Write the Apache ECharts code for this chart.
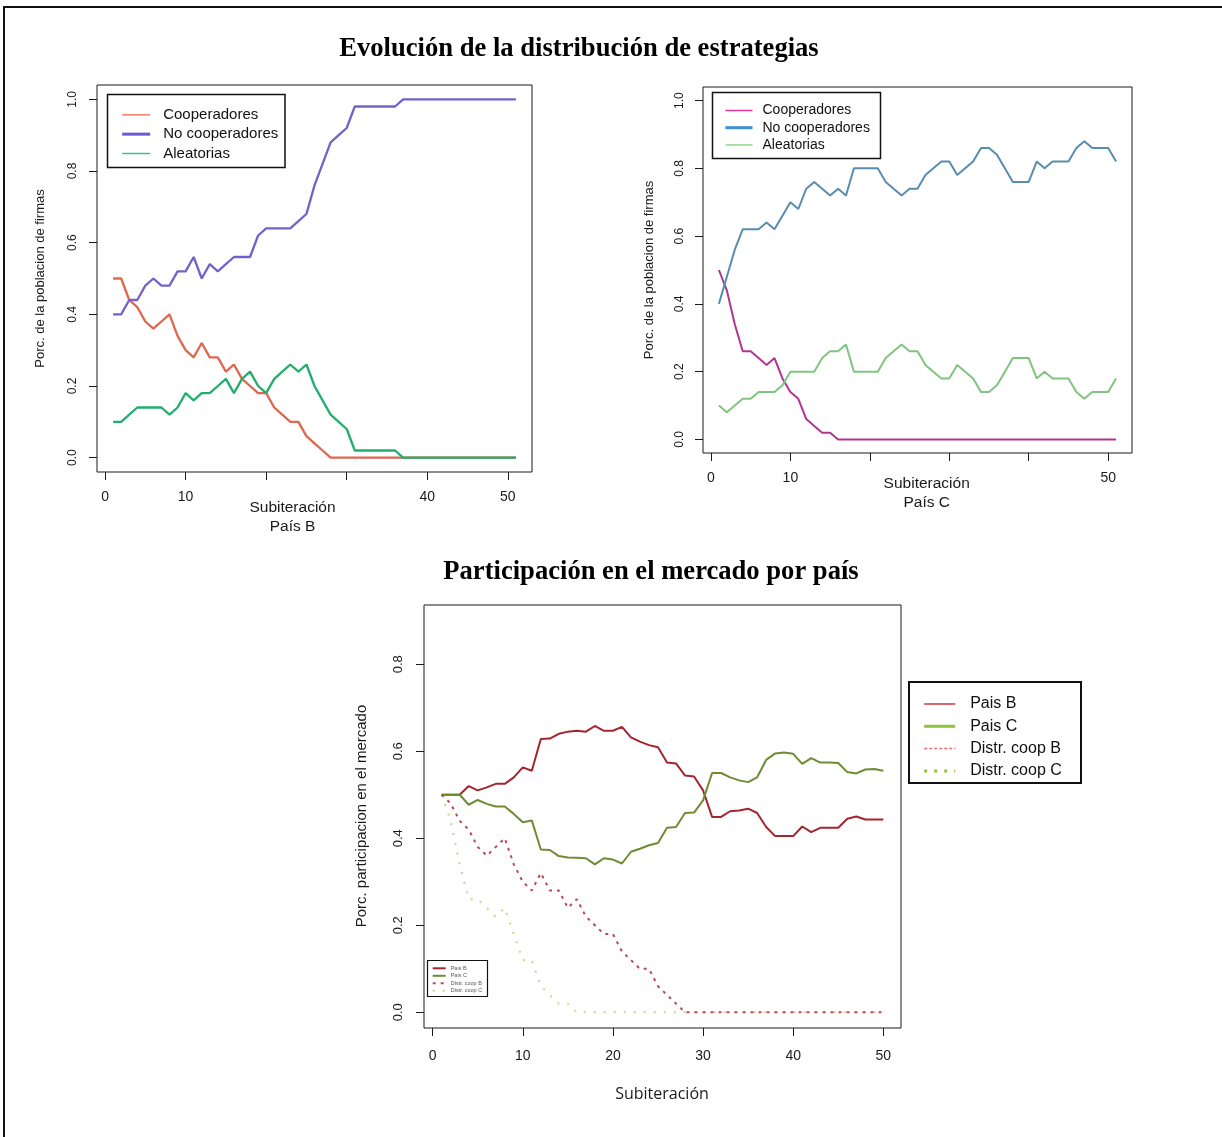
<!DOCTYPE html>
<html>
<head>
<meta charset="utf-8">
<title>Evolución de la distribución de estrategias</title>
<script src="https://cdn.jsdelivr.net/npm/echarts@6/dist/echarts.min.js"></script>
<style>
html, body { margin: 0; padding: 0; background: #fff; }
#chart { width: 1222px; height: 1137px; }
</style>
</head>
<body>
<div id="chart"></div>
<script>
// ---- datos (proporcion por subiteracion, empezando en 1) ----
// Pais B
var coopB = [0.50, 0.50, 0.44, 0.42, 0.38, 0.36, 0.38, 0.40, 0.34, 0.30,
	0.28, 0.32, 0.28, 0.28, 0.24, 0.26, 0.22, 0.20, 0.18, 0.18,
	0.14, 0.12, 0.10, 0.10, 0.06, 0.04, 0.02, 0, 0, 0,
	0, 0, 0, 0, 0, 0, 0, 0, 0, 0,
	0, 0, 0, 0, 0, 0, 0, 0, 0, 0, 0];
var noCoopB = [0.40, 0.40, 0.44, 0.44, 0.48, 0.50, 0.48, 0.48, 0.52, 0.52,
	0.56, 0.50, 0.54, 0.52, 0.54, 0.56, 0.56, 0.56, 0.62, 0.64,
	0.64, 0.64, 0.64, 0.66, 0.68, 0.76, 0.82, 0.88, 0.90, 0.92,
	0.98, 0.98, 0.98, 0.98, 0.98, 0.98, 1, 1, 1, 1,
	1, 1, 1, 1, 1, 1, 1, 1, 1, 1, 1];
var aleaB = [0.10, 0.10, 0.12, 0.14, 0.14, 0.14, 0.14, 0.12, 0.14, 0.18,
	0.16, 0.18, 0.18, 0.20, 0.22, 0.18, 0.22, 0.24, 0.20, 0.18,
	0.22, 0.24, 0.26, 0.24, 0.26, 0.20, 0.16, 0.12, 0.10, 0.08,
	0.02, 0.02, 0.02, 0.02, 0.02, 0.02, 0, 0, 0, 0,
	0, 0, 0, 0, 0, 0, 0, 0, 0, 0, 0];
// Pais C
var coopC = [0.50, 0.44, 0.34, 0.26, 0.26, 0.24, 0.22, 0.24, 0.18, 0.14,
	0.12, 0.06, 0.04, 0.02, 0.02, 0, 0, 0, 0, 0,
	0, 0, 0, 0, 0, 0, 0, 0, 0, 0,
	0, 0, 0, 0, 0, 0, 0, 0, 0, 0,
	0, 0, 0, 0, 0, 0, 0, 0, 0, 0, 0];
var noCoopC = [0.40, 0.48, 0.56, 0.62, 0.62, 0.62, 0.64, 0.62, 0.66, 0.70,
	0.68, 0.74, 0.76, 0.74, 0.72, 0.74, 0.72, 0.80, 0.80, 0.80,
	0.80, 0.76, 0.74, 0.72, 0.74, 0.74, 0.78, 0.80, 0.82, 0.82,
	0.78, 0.80, 0.82, 0.86, 0.86, 0.84, 0.80, 0.76, 0.76, 0.76,
	0.82, 0.80, 0.82, 0.82, 0.82, 0.86, 0.88, 0.86, 0.86, 0.86, 0.82];
var aleaC = [0.10, 0.08, 0.10, 0.12, 0.12, 0.14, 0.14, 0.14, 0.16, 0.20,
	0.20, 0.20, 0.20, 0.24, 0.26, 0.26, 0.28, 0.20, 0.20, 0.20,
	0.20, 0.24, 0.26, 0.28, 0.26, 0.26, 0.22, 0.20, 0.18, 0.18,
	0.22, 0.20, 0.18, 0.14, 0.14, 0.16, 0.20, 0.24, 0.24, 0.24,
	0.18, 0.20, 0.18, 0.18, 0.18, 0.14, 0.12, 0.14, 0.14, 0.14, 0.18];
// participacion en el mercado
var paisB = [0.50, 0.50, 0.50, 0.52, 0.51, 0.517, 0.525, 0.525, 0.54, 0.563,
	0.555, 0.628, 0.629, 0.64, 0.645, 0.647, 0.645, 0.658, 0.647, 0.647,
	0.656, 0.632, 0.622, 0.614, 0.609, 0.574, 0.572, 0.544, 0.542, 0.51,
	0.449, 0.449, 0.462, 0.464, 0.468, 0.458, 0.426, 0.405, 0.405, 0.405,
	0.427, 0.414, 0.424, 0.424, 0.424, 0.445, 0.45, 0.443, 0.443, 0.443];
var paisC = [0.50, 0.50, 0.50, 0.477, 0.488, 0.479, 0.473, 0.473, 0.456, 0.437,
	0.441, 0.374, 0.373, 0.359, 0.356, 0.355, 0.354, 0.340, 0.354, 0.351,
	0.342, 0.369, 0.376, 0.384, 0.389, 0.424, 0.426, 0.458, 0.459, 0.487,
	0.55, 0.55, 0.54, 0.533, 0.529, 0.54, 0.58, 0.595, 0.597, 0.594,
	0.571, 0.584, 0.574, 0.574, 0.573, 0.552, 0.549, 0.558, 0.559, 0.555];
var distrB = [0.50, 0.48, 0.44, 0.42, 0.38, 0.36, 0.38, 0.40, 0.34, 0.30,
	0.28, 0.32, 0.28, 0.28, 0.24, 0.26, 0.22, 0.20, 0.18, 0.18,
	0.14, 0.12, 0.10, 0.10, 0.06, 0.04, 0.02, 0, 0, 0,
	0, 0, 0, 0, 0, 0, 0, 0, 0, 0,
	0, 0, 0, 0, 0, 0, 0, 0, 0, 0];
var distrC = [0.50, 0.44, 0.34, 0.26, 0.26, 0.24, 0.22, 0.24, 0.18, 0.12,
	0.12, 0.06, 0.04, 0.02, 0.02, 0, 0, 0, 0, 0,
	0, 0, 0, 0, 0, 0, 0, 0, 0, 0,
	0, 0, 0, 0, 0, 0, 0, 0, 0, 0,
	0, 0, 0, 0, 0, 0, 0, 0, 0, 0];

// marcas de los ejes
var ticksX = [0, 10, 20, 30, 40, 50];
var labelsXB = [0, 10, 40, 50];
var labelsXC = [0, 10, 50];
var labelsXMercado = [0, 10, 20, 30, 40, 50];
var ticksY = [0, 0.2, 0.4, 0.6, 0.8, 1.0];
var ticksYMercado = [0, 0.2, 0.4, 0.6, 0.8];

var FONT = 'Liberation Sans, Arial, sans-serif';
var INK = '#1a1a1a';

// [subiteracion, valor]
function pares(vals) {
	var out = [];
	for (var i = 0; i < vals.length; i++) {
		out.push([i + 1, vals[i]]);
	}
	return out;
}

function ejeX(idx, min, max, labels, margin) {
	return {
		type: 'value', gridIndex: idx, min: min, max: max,
		axisLine: { show: false, onZero: false },
		splitLine: { show: false },
		axisTick: { show: true, length: 8, customValues: ticksX, lineStyle: { color: INK, width: 1 } },
		axisLabel: { customValues: labels, margin: margin, fontSize: 14, color: INK, fontFamily: FONT }
	};
}

function ejeY(idx, min, max, ticks, fontSize, margin) {
	return {
		type: 'value', gridIndex: idx, min: min, max: max,
		axisLine: { show: false, onZero: false },
		splitLine: { show: false },
		axisTick: { show: true, length: 8, customValues: ticks, lineStyle: { color: INK, width: 1 } },
		axisLabel: {
			customValues: ticks, rotate: 90, margin: margin, fontSize: fontSize,
			color: INK, fontFamily: FONT,
			formatter: function(v) { return Number(v).toFixed(1); }
		}
	};
}

function linea(name, idx, vals, color, width, type) {
	return {
		name: name, type: 'line', xAxisIndex: idx, yAxisIndex: idx,
		data: pares(vals), symbol: 'none', silent: true, z: 2,
		lineStyle: { color: color, width: width, type: type || 'solid' },
		itemStyle: { color: color }
	};
}

function texto(x, y, txt, size, extra) {
	var st = {
		text: txt, fontSize: size, fontFamily: FONT, fill: INK,
		align: 'center', verticalAlign: 'middle'
	};
	for (var k in extra) { st[k] = extra[k]; }
	return { type: 'text', x: x, y: y, z: 20, style: st };
}

function textoVertical(x, y, txt, size) {
	var t = texto(x, y, txt, size, {});
	t.rotation = Math.PI / 2;
	return t;
}

function caja(x, y, w, h, lw) {
	return {
		type: 'rect', z: 8,
		shape: { x: x, y: y, width: w, height: h },
		style: { fill: '#fff', stroke: '#111', lineWidth: lw }
	};
}

function quitarPrefijo(n) { return n.split(':')[1]; }

var gridBase = { show: true, borderColor: INK, borderWidth: 1, backgroundColor: 'transparent', outerBoundsMode: 'none' };

var myChart = echarts.init(document.getElementById('chart'), null, { renderer: 'canvas' });

var option = {
	backgroundColor: '#fff',
	animation: false,
	grid: [
		echarts.util.extend({ left: 97, top: 85, width: 435, height: 387 }, gridBase),
		echarts.util.extend({ left: 703, top: 87, width: 429, height: 366 }, gridBase),
		echarts.util.extend({ left: 424, top: 605, width: 477, height: 423 }, gridBase)
	],
	xAxis: [
		ejeX(0, -1, 53, labelsXB, 18),
		ejeX(1, -1, 53, labelsXC, 18),
		ejeX(2, -0.96, 51.96, labelsXMercado, 21)
	],
	yAxis: [
		ejeY(0, -0.04, 1.04, ticksY, 12, 18),
		ejeY(1, -0.04, 1.04, ticksY, 12, 17),
		ejeY(2, -0.036, 0.936, ticksYMercado, 13, 19)
	],
	legend: [
		{
			orient: 'vertical', left: 120.7, top: 107.3, padding: 0, z: 10,
			itemWidth: 28, itemHeight: 14, itemGap: 4.35, selectedMode: false,
			itemStyle: { opacity: 0 },
			textStyle: { fontSize: 15, fontFamily: FONT, color: '#111', lineHeight: 14, padding: [0, 0, 0, 8] },
			formatter: quitarPrefijo,
			data: [
				{ name: 'B:Cooperadores', lineStyle: { color: '#f47f66', width: 1.5, type: 'solid' } },
				{ name: 'B:No cooperadores', lineStyle: { color: '#6a5ad8', width: 3, type: 'solid' } },
				{ name: 'B:Aleatorias', lineStyle: { color: '#35c486', width: 1.5, type: 'solid' } }
			]
		},
		{
			orient: 'vertical', left: 724, top: 103.5, padding: 0, z: 10,
			itemWidth: 27, itemHeight: 13, itemGap: 3.2, selectedMode: false,
			itemStyle: { opacity: 0 },
			textStyle: { fontSize: 14, fontFamily: FONT, color: '#111', lineHeight: 13, padding: [0, 0, 0, 5] },
			formatter: quitarPrefijo,
			data: [
				{ name: 'C:Cooperadores', lineStyle: { color: '#e8359a', width: 1.5, type: 'solid' } },
				{ name: 'C:No cooperadores', lineStyle: { color: '#3b8fd2', width: 3, type: 'solid' } },
				{ name: 'C:Aleatorias', lineStyle: { color: '#8fd88f', width: 1.5, type: 'solid' } }
			]
		},
		{
			orient: 'vertical', left: 922.7, top: 696, padding: 0, z: 10,
			itemWidth: 31, itemHeight: 14, itemGap: 6.3, selectedMode: false,
			itemStyle: { opacity: 0 },
			textStyle: { fontSize: 16, fontFamily: FONT, color: '#111', lineHeight: 14, padding: [0, 0, 0, 10] },
			data: [
				{ name: 'Pais B', lineStyle: { color: '#c8383a', width: 1.5, type: 'solid' } },
				{ name: 'Pais C', lineStyle: { color: '#8cc43c', width: 3, type: 'solid' } },
				{ name: 'Distr. coop B', lineStyle: { color: '#e87070', width: 1.5, type: [3, 2] } },
				{ name: 'Distr. coop C', lineStyle: { color: '#8cc43c', width: 3, type: [3, 7] } }
			]
		},
		{
			orient: 'vertical', left: 431.7, top: 965.3, padding: 0, z: 10,
			itemWidth: 13, itemHeight: 6, itemGap: 1.5, selectedMode: false,
			itemStyle: { opacity: 0 },
			textStyle: { fontSize: 5.5, fontFamily: FONT, color: '#555', lineHeight: 6 },
			data: ['Pais B', 'Pais C', 'Distr. coop B', 'Distr. coop C']
		}
	],
	graphic: [
		// marco exterior
		{ type: 'rect', z: 1, shape: { x: 4, y: 7, width: 1300, height: 1200 }, style: { fill: 'none', stroke: '#111', lineWidth: 2 } },
		caja(107.5, 94.5, 177.5, 73, 1.5),
		caja(712.5, 92.5, 168, 66, 1.5),
		caja(909, 682, 172, 101, 2),
		caja(427.5, 960.5, 60, 36, 1.2),
		texto(579, 49.5, 'Evolución de la distribución de estrategias', 26.6, { fontWeight: 'bold', fontFamily: 'Liberation Serif, Times New Roman, serif', fill: '#000' }),
		texto(651, 572.5, 'Participación en el mercado por país', 26.6, { fontWeight: 'bold', fontFamily: 'Liberation Serif, Times New Roman, serif', fill: '#000' }),
		texto(292.5, 508, 'Subiteración', 15.5, {}),
		texto(292.5, 527, 'País B', 15.5, {}),
		texto(926.7, 483.3, 'Subiteración', 15.5, {}),
		texto(926.7, 502.5, 'País C', 15.5, {}),
		texto(662, 1094, 'Subiteración', 16, { fontFamily: 'Open Sans, Noto Sans, sans-serif' }),
		textoVertical(40, 278.5, 'Porc. de la poblacion de firmas', 13),
		textoVertical(649, 270, 'Porc. de la poblacion de firmas', 13),
		textoVertical(362, 816, 'Porc. participacion en el mercado', 15)
	],
	series: [
		linea('B:Cooperadores', 0, coopB, '#e0674f', 2.3),
		linea('B:No cooperadores', 0, noCoopB, '#7461c9', 2.3),
		linea('B:Aleatorias', 0, aleaB, '#22ae6c', 2.3),
		linea('C:Cooperadores', 1, coopC, '#b0358f', 2),
		linea('C:No cooperadores', 1, noCoopC, '#5a8cb0', 2),
		linea('C:Aleatorias', 1, aleaC, '#7fc47f', 2),
		linea('Distr. coop C', 2, distrC, '#c9d58e', 2, [2, 8]),
		linea('Distr. coop B', 2, distrB, '#b84b5c', 2, [3, 5]),
		linea('Pais B', 2, paisB, '#a3262f', 2),
		linea('Pais C', 2, paisC, '#6f8c35', 2)
	]
};

myChart.setOption(option);
</script>
</body>
</html>
